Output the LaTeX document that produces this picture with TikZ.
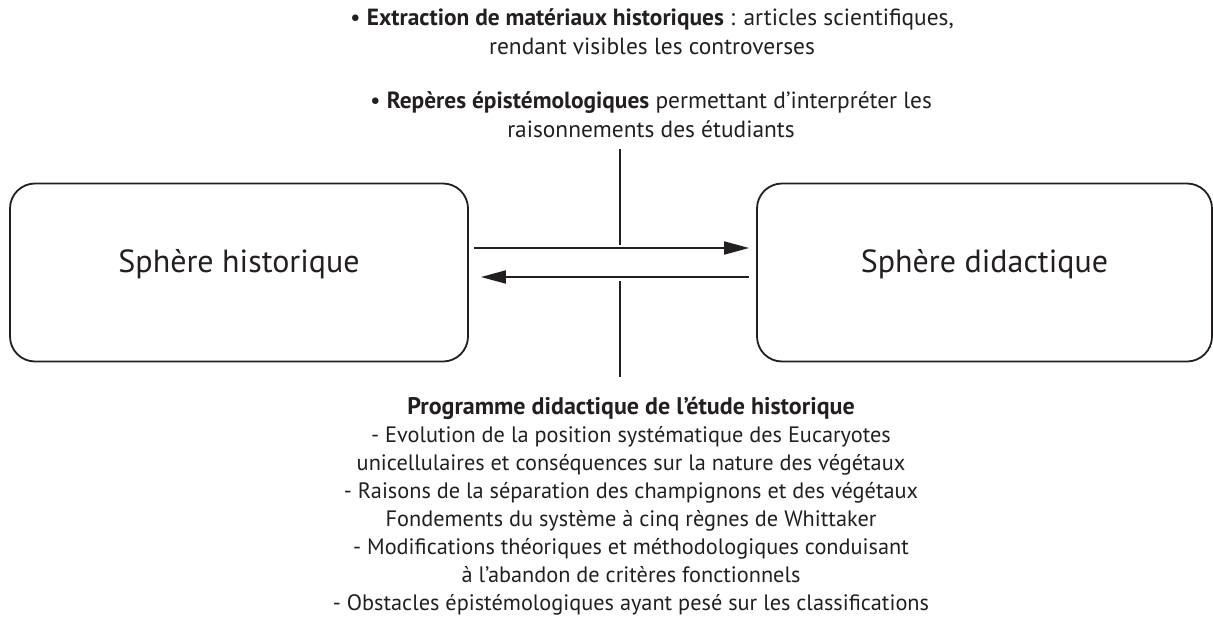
\documentclass[tikz,border=0pt]{standalone}
\usepackage{fontspec}
\setmainfont{PT Sans}
\usetikzlibrary{arrows.meta}
\definecolor{encre}{HTML}{231F20}

\begin{document}
\begin{tikzpicture}[x=1pt,y=-1pt,
  sphere/.style={draw=encre,line width=1.8pt,rounded corners=25pt,
    minimum width=458pt,minimum height=178pt,text height=22pt,text depth=22pt,
    font=\fontsize{32}{38}\selectfont,text=encre},
  fleche/.style={line width=1.8pt,draw=encre,-{Triangle[length=25pt,width=13pt]}},
  trait/.style={line width=1.8pt,draw=encre},
  bloc/.style={align=center,text=encre,font=\fontsize{23.4}{29}\selectfont},
  liste/.style={align=center,text=encre,font=\fontsize{22.3}{28}\selectfont}]

\useasboundingbox (0,0) rectangle (1213,624);

% Spheres
\node[sphere] (hist) at (239,272.5)
{Sphère historique};

\node[sphere,minimum width=455pt] (didac) at (984.5,272.5)
{Sphère didactique};

% Fleches
\draw[fleche] ([xshift=5pt,yshift=24.5pt]hist.east) -- ([xshift=-7pt,yshift=24.5pt]didac.west);
\draw[fleche] ([xshift=-7pt,yshift=-4.5pt]didac.west) -- ([xshift=12pt,yshift=-4.5pt]hist.east);

% Textes du haut
\node[bloc] (extraction) at (652,32)
{\textbullet\ \textbf{Extraction de matériaux historiques} : articles scientifiques,\\
rendant visibles les controverses};

\node[bloc] (reperes) at (651,115)
{\textbullet\ \textbf{Repères épistémologiques} permettant d’interpréter les\\
raisonnements des étudiants};

% Traits verticaux
\coordinate (haut1) at (620,149);
\coordinate (haut2) at (620,245);
\coordinate (bas1) at (620,281);
\coordinate (bas2) at (620,377);

\draw[trait] (haut1) -- (haut2);
\draw[trait] (bas1) -- (bas2);

% Programme
\node[liste] (programme) at (631,506)
{{\fontsize{24}{28}\selectfont\bfseries Programme didactique de l’étude historique}\\
- Evolution de la position systématique des Eucaryotes\\
unicellulaires et conséquences sur la nature des végétaux\\
- Raisons de la séparation des champignons et des végétaux\\
Fondements du système à cinq règnes de Whittaker\\
- Modifications théoriques et méthodologiques conduisant\\
à l’abandon de critères fonctionnels\\
- Obstacles épistémologiques ayant pesé sur les classifications};

\end{tikzpicture}
\end{document}
